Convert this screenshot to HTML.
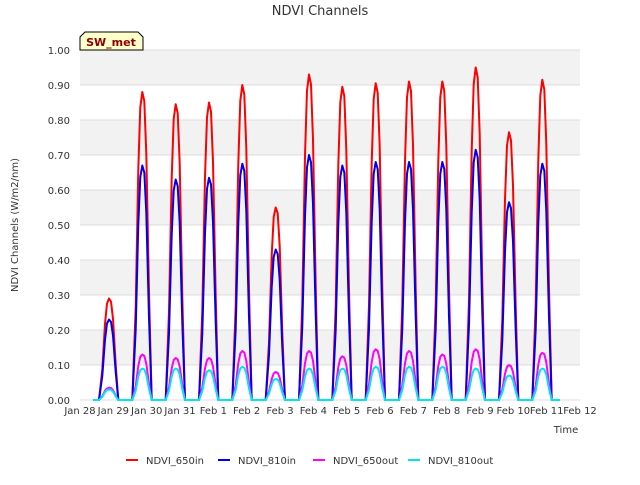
<!DOCTYPE html>
<html><head><meta charset="utf-8"><style>
body{margin:0;background:#fff;font-family:"Liberation Sans",sans-serif}
text{font-family:"DejaVu Sans","Liberation Sans",sans-serif}
</style></head><body>
<svg id="c" width="640" height="480" xmlns="http://www.w3.org/2000/svg">
<text x="320" y="15" text-anchor="middle" font-size="13" fill="#333">NDVI Channels</text>
<g id="grid"></g>
<g id="series"></g>
<g id="axes"></g>
<text transform="translate(18,225) rotate(-90)" text-anchor="middle" font-size="10" fill="#333">NDVI Channels (W/m2/nm)</text>
<text x="566" y="433" text-anchor="middle" font-size="10" fill="#333">Time</text>
<g>
<path d="M80,50 L80,37 L85,32 L138,32 L143,37 L143,50 Z" fill="#ffffcc" stroke="#000" stroke-width="1"/>
<text x="111" y="46" text-anchor="middle" font-size="11" font-weight="bold" fill="#8b0000">SW_met</text>
</g>
<g id="legend"></g>
</svg>
<script>
const dayLabels=["Jan 28","Jan 29","Jan 30","Jan 31","Feb 1","Feb 2","Feb 3","Feb 4","Feb 5","Feb 6","Feb 7","Feb 8","Feb 9","Feb 10","Feb 11","Feb 12"];
const yTicks=[0,0.1,0.2,0.3,0.4,0.5,0.6,0.7,0.8,0.9,1.0];
const seriesNames=["NDVI_650in","NDVI_810in","NDVI_650out","NDVI_810out"];
const seriesColors=["#ff0000","#0000ee","#ff00ff","#00e5ee"];
const peak650in=[0.29,0.88,0.845,0.85,0.90,0.55,0.93,0.895,0.905,0.91,0.91,0.95,0.765,0.915];
const peak810in=[0.23,0.67,0.63,0.635,0.675,0.43,0.70,0.67,0.68,0.68,0.68,0.715,0.565,0.675];
const peak650out=[0.035,0.13,0.12,0.12,0.14,0.08,0.14,0.125,0.145,0.14,0.13,0.145,0.10,0.135];
const peak810out=[0.03,0.09,0.09,0.085,0.095,0.06,0.09,0.09,0.095,0.095,0.095,0.09,0.07,0.09];
const profOffset=[-0.3,-0.2,-0.12,-0.06,0,0.06,0.12,0.2,0.28];
const profFrac=[0,0.3,0.75,0.95,1,0.97,0.8,0.35,0];
const peakTime=0.87;
const NS="http://www.w3.org/2000/svg";
const X0=80,X1=580,Y0=400,Y1=50;
const xs=d=>X0+(X1-X0)*d/15;
const ys=v=>Y0-(Y0-Y1)*v;
function mk(t,a,p){const e=document.createElementNS(NS,t);for(const k in a)e.setAttribute(k,a[k]);p.appendChild(e);return e;}
const grid=document.getElementById('grid');
for(let i=0;i<10;i++){
  if(i%2===1){const r=mk('rect',{x:X0,y:ys(yTicks[i+1]),width:X1-X0,height:ys(yTicks[i])-ys(yTicks[i+1]),fill:'#f2f2f2'},grid);
  
  }
}
yTicks.forEach(v=>{const l=mk('line',{x1:X0,x2:X1,y1:ys(v),y2:ys(v),stroke:'#dcdcdc'},grid);

});
const axes=document.getElementById('axes');
yTicks.forEach(v=>{const t=mk('text',{x:X0-10,y:ys(v)+4,'text-anchor':'end','font-size':'10',fill:'#333'},axes);t.textContent=v.toFixed(2);

});
dayLabels.forEach((s,i)=>{const t=mk('text',{x:xs(i),y:414,'text-anchor':'middle','font-size':'10',fill:'#333'},axes);t.textContent=s;

});
const sg=document.getElementById('series');
[peak650in,peak810in,peak650out,peak810out].forEach((pk,si)=>{
  let pts=[[xs(0.4),ys(0)]];
  pk.forEach((p,d)=>{profOffset.forEach((o,k)=>pts.push([xs(d+peakTime+o),ys(p*profFrac[k])]));});
  pts.push([xs(14.4),ys(0)]);
  const pl=mk('polyline',{points:pts.map(q=>q.map(n=>n.toFixed(1)).join(',')).join(' '),fill:'none',stroke:seriesColors[si],'stroke-width':2,'stroke-linejoin':'round'},sg);
  
  
});
const lg=document.getElementById('legend');
const lx=[126,218,313,408];
seriesNames.forEach((n,i)=>{
  const g=mk('g',{},lg);
  
  
  mk('line',{x1:lx[i],x2:lx[i]+12,y1:460,y2:460,stroke:seriesColors[i],'stroke-width':2},g);
  const t=mk('text',{x:lx[i]+20,y:464,'font-size':'10',fill:'#333'},g);t.textContent=n;
});
</script>
</body></html>
